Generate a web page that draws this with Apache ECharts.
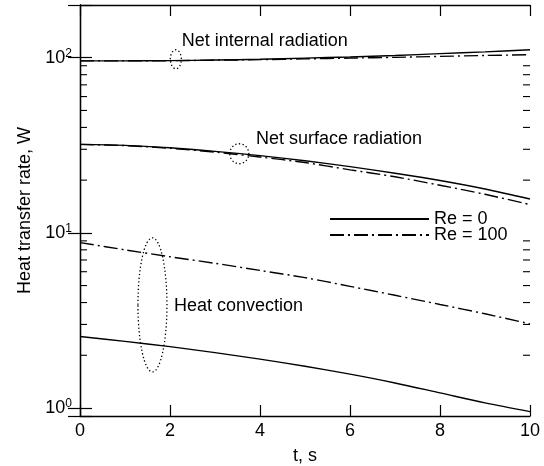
<!DOCTYPE html>
<html>
<head>
<meta charset="utf-8">
<script src="https://cdn.jsdelivr.net/npm/echarts@6/dist/echarts.min.js"></script>
<style>
html, body { margin: 0; padding: 0; background: #fff; }
#chart { width: 544px; height: 466px; }
</style>
</head>
<body>
<div id="chart"></div>
<script>
// time, s
var times = [0, 1, 2, 3, 4, 5, 6, 7, 8, 9, 10];
// Re = 0
var internalRe0 = [96, 96, 96.3, 97, 98, 99.5, 101, 103, 105.5, 108, 111];
var surfaceRe0 = [32, 31.6, 30.6, 29.2, 27.6, 25.8, 23.9, 21.9, 19.9, 17.8, 15.6];
var convectionRe0 = [2.56, 2.40, 2.24, 2.07, 1.90, 1.73, 1.56, 1.39, 1.22, 1.07, 0.953];
// Re = 100
var internalRe100 = [96, 96, 96.2, 96.8, 97.5, 98.5, 99.5, 100.5, 101.8, 103, 104];
var surfaceRe100 = [32, 31.5, 30.4, 28.9, 27.1, 25.2, 22.9, 20.9, 18.7, 16.6, 14.5];
var convectionRe100 = [8.8, 8.0, 7.3, 6.7, 6.1, 5.55, 4.95, 4.4, 3.9, 3.45, 3.02];
// x tick labels / y range
var xTicks = [0, 2, 4, 6, 8, 10];
var yMin = 0.9, yMax = 200;
var minorTicks = [2, 3, 4, 5, 6, 7, 8, 9, 20, 30, 40, 50, 60, 70, 80, 90];
// annotations: [t, value, text]
var labels = [
    [2.26, 124, 'Net internal radiation'],
    [3.91, 34.4, 'Net surface radiation'],
    [2.09, 3.83, 'Heat convection']
];
// dotted ellipses: [t, value, rx, ry]
var ellipses = [
    [2.13, 98, 5.5, 9.5],
    [3.54, 28.3, 9.5, 10],
    [1.61, 3.88, 14.5, 67]
];

var font = 'Liberation Sans';
var fs = 18;
var dashDot = [14, 4, 2, 4];

function pairs(ys) {
    var out = [];
    for (var i = 0; i < times.length; i++) out.push([times[i], ys[i]]);
    return out;
}

function lineSeries(name, ys, dashed) {
    return {
        name: name,
        type: 'line',
        data: pairs(ys),
        symbol: 'none',
        smooth: 0.3,
        silent: true,
        itemStyle: { color: '#000' },
        lineStyle: { color: '#000', width: 1.4, type: dashed ? dashDot : 'solid' }
    };
}

var chart = echarts.init(document.getElementById('chart'));

var option = {
    animation: false,
    textStyle: { fontFamily: font, color: '#000' },
    grid: { left: 80, right: 14, top: 5, bottom: 50, containLabel: false, outerBoundsMode: 'none' },
    legend: {
        data: ['Re = 0', 'Re = 100'],
        orient: 'vertical',
        left: 324,
        top: 205,
        itemWidth: 99,
        itemHeight: 10,
        itemGap: -2,
        selectedMode: false,
        itemStyle: { opacity: 0 },
        textStyle: { fontFamily: font, fontSize: fs, color: '#000', lineHeight: 16 }
    },
    xAxis: [{
        type: 'value',
        min: 0, max: 10, interval: 2,
        name: 't, s',
        nameLocation: 'middle',
        nameGap: 31,
        nameTextStyle: { fontFamily: font, fontSize: fs, color: '#000' },
        axisLine: { lineStyle: { color: '#000', width: 1.3 } },
        axisTick: { inside: true, length: 11, lineStyle: { color: '#000', width: 1.2 } },
        axisLabel: { fontFamily: font, fontSize: fs, color: '#000', margin: 6 },
        splitLine: { show: false }
    }, {
        type: 'value',
        position: 'top',
        min: 0, max: 10, interval: 2,
        axisLine: { show: true, lineStyle: { color: '#000', width: 1.3 } },
        axisTick: { inside: true, length: 11, lineStyle: { color: '#000', width: 1.2 } },
        axisLabel: { show: false },
        splitLine: { show: false }
    }],
    yAxis: [{
        type: 'log',
        logBase: 10,
        min: yMin, max: yMax,
        name: 'Heat transfer rate, W',
        nameLocation: 'middle',
        nameGap: 45,
        nameTextStyle: { fontFamily: font, fontSize: fs, color: '#000' },
        axisLine: { show: true, lineStyle: { color: '#000', width: 1.3 } },
        axisTick: { inside: true, length: 12, lineStyle: { color: '#000', width: 1.2 } },
        axisLabel: {
            margin: 8,
            formatter: function (v) {
                var e = Math.round(Math.log10(v));
                if (Math.abs(Math.log10(v) - e) > 1e-6) return '';
                return '10{sup|' + e + '}';
            },
            fontFamily: font, fontSize: fs, color: '#000',
            rich: {
                sup: { fontFamily: font, fontSize: 12, color: '#000', verticalAlign: 'top', padding: [0, 0, 9, 0] }
            }
        },
        splitLine: { show: false }
    }, {
        type: 'log',
        logBase: 10,
        position: 'right',
        min: yMin, max: yMax,
        axisLine: { show: true, lineStyle: { color: '#000', width: 1.3 } },
        axisTick: { inside: true, length: 12, lineStyle: { color: '#000', width: 1.2 } },
        axisLabel: { show: false },
        splitLine: { show: false }
    }],
    series: [
        lineSeries('Re = 0', internalRe0, false),
        lineSeries('Re = 100', internalRe100, true),
        lineSeries('Re = 0', surfaceRe0, false),
        lineSeries('Re = 100', surfaceRe100, true),
        lineSeries('Re = 0', convectionRe0, false),
        lineSeries('Re = 100', convectionRe100, true),
        {
            // minor log ticks on left and right
            type: 'custom',
            silent: true,
            data: minorTicks.map(function (v) { return [0, v]; }),
            renderItem: function (params, api) {
                var v = api.value(1);
                var l = api.coord([0, v]);
                var r = api.coord([10, v]);
                var st = { stroke: '#000', lineWidth: 1.1 };
                return {
                    type: 'group',
                    children: [
                        { type: 'line', shape: { x1: l[0], y1: l[1], x2: l[0] + 7, y2: l[1] }, style: st },
                        { type: 'line', shape: { x1: r[0], y1: r[1], x2: r[0] - 7, y2: r[1] }, style: st }
                    ]
                };
            }
        },
        {
            type: 'custom',
            silent: true,
            clip: false,
            data: ellipses,
            renderItem: function (params, api) {
                var p = api.coord([api.value(0), api.value(1)]);
                return {
                    type: 'ellipse',
                    shape: { cx: p[0], cy: p[1], rx: api.value(2), ry: api.value(3) },
                    style: { fill: 'none', stroke: '#000', lineWidth: 1.3, lineDash: [1.3, 2.4] }
                };
            }
        },
        {
            type: 'custom',
            silent: true,
            clip: false,
            data: labels,
            renderItem: function (params, api) {
                var p = api.coord([api.value(0), api.value(1)]);
                return {
                    type: 'text',
                    x: p[0], y: p[1],
                    style: {
                        text: labels[params.dataIndex][2],
                        fontFamily: font, fontSize: fs, fill: '#000',
                        align: 'left', verticalAlign: 'middle'
                    }
                };
            }
        }
    ]
};

chart.setOption(option);

window.onresize = function () {
    chart.resize();
};
</script>
</body>
</html>
